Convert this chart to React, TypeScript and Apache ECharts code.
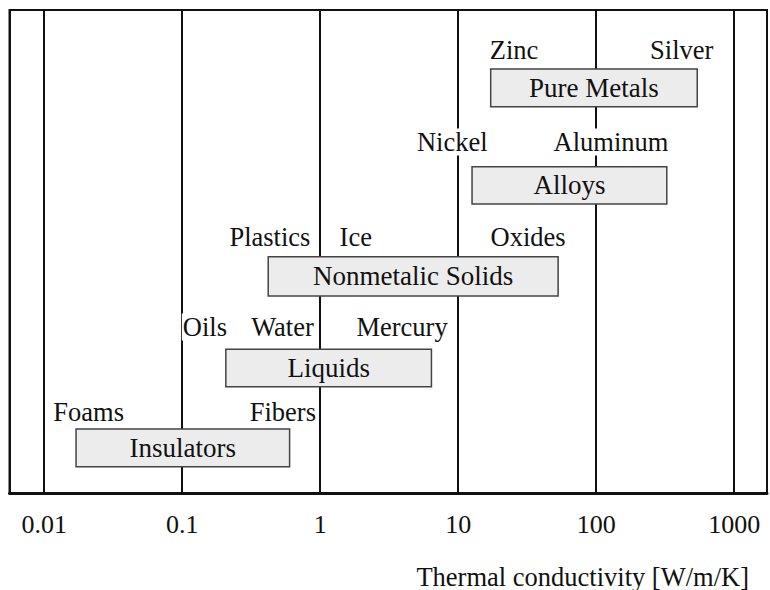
import React, { useEffect, useRef } from "react";
import * as echarts from "echarts";

// Material classes (bars): conductivity range [W/m/K] and vertical band (arbitrary level units)
const categories = ["Insulators", "Liquids", "Nonmetalic Solids", "Alloys", "Pure Metals"];
const rangeLow = [0.017, 0.207, 0.42, 12.6, 17.2];
const rangeHigh = [0.6, 6.4, 53, 325, 540];
const rowBottom = [26.3, 106.3, 197, 289, 386.3];
const rowTop = [64, 143.7, 236.3, 326.3, 424];

// Example materials (labels)
const materialNames = ["Foams", "Fibers", "Oils", "Water", "Mercury", "Plastics", "Ice", "Oxides", "Nickel", "Aluminum", "Zinc", "Silver"];
const materialK = [0.021, 0.536, 0.146, 0.533, 3.92, 0.432, 1.81, 32.1, 9.05, 128, 25.4, 417];
const materialLevel = [81, 81, 166, 166, 166, 256, 256, 256, 351, 351, 443, 443];

const tickLabels = ["0.01", "0.1", "1", "10", "100", "1000"];
const axisTitle = "Thermal conductivity [W/m/K]";

const FONT = "Liberation Serif";
const INK = "#111111";

export default function App() {
  const ref = useRef<HTMLDivElement>(null);

  useEffect(() => {
    if (!ref.current) return;
    const chart = echarts.init(ref.current, undefined, { renderer: "svg" });

    const barData = categories.map((c, i) => [rangeLow[i], rangeHigh[i], rowBottom[i], rowTop[i]]);
    const labelData = materialNames.map((n, i) => [materialK[i], materialLevel[i]]);

    chart.setOption({
      animation: false,
      backgroundColor: "#ffffff",
      textStyle: { fontFamily: FONT, fontSize: 26, color: INK },
      title: {
        text: axisTitle,
        right: 21,
        top: 563,
        padding: 0,
        textStyle: { fontFamily: FONT, fontSize: 26.5, fontWeight: "normal", color: INK },
      },
      grid: {
        left: 9.5,
        right: 2,
        top: 10,
        bottom: 97,
        show: true,
        borderColor: INK,
        borderWidth: 2,
      },
      xAxis: {
        type: "log",
        logBase: 10,
        min: 0.0056,
        max: 1730,
        axisLine: { show: true, lineStyle: { color: INK, width: 3 } },
        axisTick: { show: false },
        splitLine: { show: true, lineStyle: { color: INK, width: 2 } },
        axisLabel: {
          margin: 18,
          fontFamily: FONT,
          fontSize: 26,
          color: INK,
          showMinLabel: true,
          showMaxLabel: true,
          formatter: (v: number) => {
            const e = Math.log10(v);
            const r = Math.round(e);
            if (Math.abs(e - r) < 1e-6 && r >= -2 && r <= 3) return tickLabels[r + 2];
            return "";
          },
        },
      },
      yAxis: {
        type: "value",
        min: 0,
        max: 483,
        show: false,
      },
      series: [
        {
          type: "custom",
          data: barData,
          z: 3,
          renderItem: (params: any, api: any) => {
            const lo = api.value(0);
            const hi = api.value(1);
            const b = api.value(2);
            const t = api.value(3);
            const p0 = api.coord([lo, t]);
            const p1 = api.coord([hi, b]);
            return {
              type: "group",
              children: [
                {
                  type: "rect",
                  shape: { x: p0[0], y: p0[1], width: p1[0] - p0[0], height: p1[1] - p0[1] },
                  style: { fill: "#ececec", stroke: "#444444", lineWidth: 1.5 },
                },
                {
                  type: "text",
                  x: (p0[0] + p1[0]) / 2,
                  y: (p0[1] + p1[1]) / 2,
                  style: {
                    text: categories[params.dataIndex],
                    align: "center",
                    verticalAlign: "middle",
                    fontFamily: FONT,
                    fontSize: 27,
                    fill: INK,
                  },
                },
              ],
            };
          },
        },
        {
          type: "scatter",
          data: labelData,
          z: 4,
          symbolSize: 1,
          itemStyle: { color: "rgba(0,0,0,0)", opacity: 1 },
          label: {
            show: true,
            position: "inside",
            formatter: (p: any) => materialNames[p.dataIndex],
            fontFamily: FONT,
            fontSize: 26.5,
            color: INK,
            backgroundColor: "#ffffff",
            padding: [0, 1],
          },
          emphasis: { disabled: true },
        },
      ],
    });

    return () => chart.dispose();
  }, []);

  return (
    <div
      ref={ref}
      style={{ position: "fixed", left: 0, top: 0, width: 770, height: 590, background: "#fff" }}
    />
  );
}
